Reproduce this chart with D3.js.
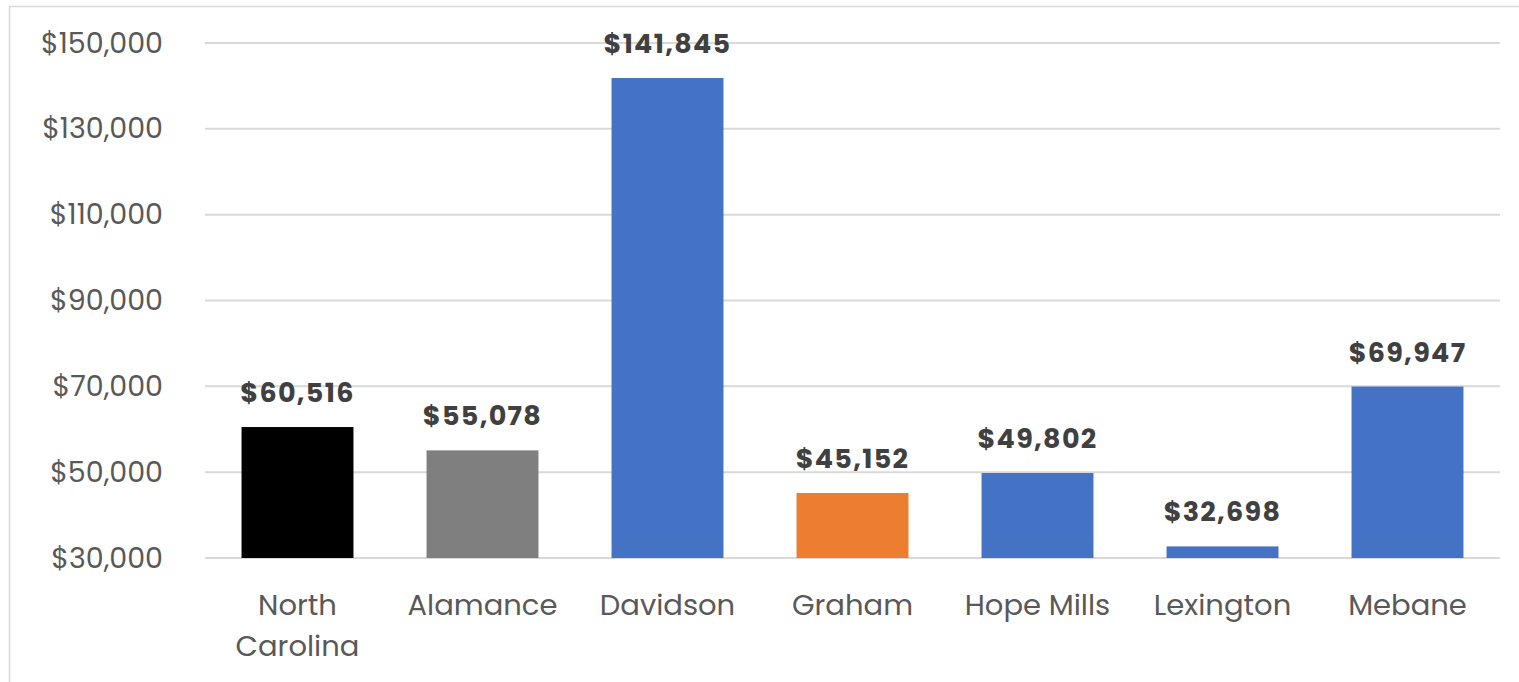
<!DOCTYPE html>
<html>
<head>
<meta charset="utf-8">
<script src="https://cdn.jsdelivr.net/npm/d3@7"></script>
<style>
  body { margin: 0; background: #fff; }
  svg { display: block; }
</style>
</head>
<body>
<div id="chart"></div>
<script>
const places = ['North Carolina', 'Alamance', 'Davidson', 'Graham', 'Hope Mills', 'Lexington', 'Mebane'];
const incomes = [60516, 55078, 141845, 45152, 49802, 32698, 69947];
const barColors = ['#000000', '#7f7f7f', '#4472c4', '#ed7d31', '#4472c4', '#4472c4', '#4472c4'];
const yTicks = [30000, 50000, 70000, 90000, 110000, 130000, 150000];

const width = 1519, height = 682;
const plotLeft = 205, plotRight = 1500, plotTop = 43, plotBottom = 558;
const font = "Poppins, 'Open Sans', Lato, sans-serif";

const svg = d3.select('#chart').append('svg')
  .attr('width', width)
  .attr('height', height);

// outer frame (top and left visible)
svg.append('path')
  .attr('d', `M9.5,${height} V6.5 H${width}`)
  .attr('fill', 'none')
  .attr('stroke', '#d9d9d9')
  .attr('stroke-width', 1.5);

const x = d3.scaleBand()
  .domain(places)
  .range([plotLeft, plotRight])
  .paddingInner(0.395)
  .paddingOuter(0.1975);

const y = d3.scaleLinear()
  .domain([30000, 150000])
  .range([plotBottom, plotTop]);

// gridlines
svg.append('g')
  .selectAll('line')
  .data(yTicks)
  .enter()
  .append('line')
  .attr('x1', plotLeft)
  .attr('x2', plotRight)
  .attr('y1', d => y(d))
  .attr('y2', d => y(d))
  .attr('stroke', '#d9d9d9')
  .attr('stroke-width', 2);

// y axis labels
const yAxis = d3.axisLeft(y).tickValues(yTicks).tickSize(0).tickPadding(42)
  .tickFormat(d => '$' + d3.format(',')(d));
const ya = svg.append('g').attr('transform', `translate(${plotLeft},0)`).call(yAxis);
ya.select('.domain').remove();
ya.selectAll('text')
  .attr('fill', '#595959')
  .style('font-family', font)
  .style('font-size', '28.5px');

// bars
svg.append('g')
  .selectAll('rect')
  .data(places)
  .enter()
  .append('rect')
  .attr('x', d => x(d))
  .attr('width', x.bandwidth())
  .attr('y', (d, i) => y(incomes[i]))
  .attr('height', (d, i) => y(30000) - y(incomes[i]))
  .attr('fill', (d, i) => barColors[i]);

// value labels
svg.append('g')
  .selectAll('text')
  .data(places)
  .enter()
  .append('text')
  .attr('x', d => x(d) + x.bandwidth() / 2)
  .attr('y', (d, i) => y(incomes[i]) - 25)
  .attr('text-anchor', 'middle')
  .attr('fill', '#404040')
  .style('font-family', font)
  .style('font-size', '27px')
  .style('letter-spacing', '1.3px')
  .style('font-weight', 'bold')
  .text((d, i) => '$' + d3.format(',')(incomes[i]));

// category labels (wrapped)
const wrapped = { 'North Carolina': ['North', 'Carolina'] };
const cats = svg.append('g')
  .selectAll('text')
  .data(places)
  .enter()
  .append('text')
  .attr('x', d => x(d) + x.bandwidth() / 2)
  .attr('y', 615)
  .attr('text-anchor', 'middle')
  .attr('fill', '#595959')
  .style('font-family', font)
  .style('font-size', '29px');
cats.each(function(d) {
  const lines = wrapped[d] || [d];
  d3.select(this).selectAll('tspan')
    .data(lines)
    .enter()
    .append('tspan')
    .attr('x', x(d) + x.bandwidth() / 2)
    .attr('dy', (l, i) => i === 0 ? 0 : 41)
    .text(l => l);
});
</script>
</body>
</html>
